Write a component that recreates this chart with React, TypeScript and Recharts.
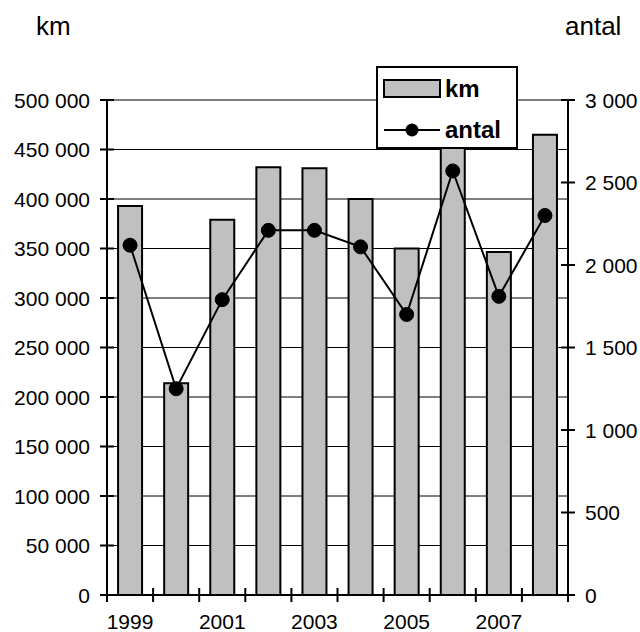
import React from 'react';
import { ComposedChart, Bar, Line, XAxis, YAxis, CartesianGrid, Legend } from 'recharts';

const years = ['1999', '2000', '2001', '2002', '2003', '2004', '2005', '2006', '2007', '2008'];
const kmValues = [393000, 214000, 379000, 432000, 431000, 400000, 350000, 462000, 346500, 465000];
const antalValues = [2120, 1250, 1790, 2210, 2210, 2110, 1700, 2570, 1810, 2300];
const kmTicks = [0, 50000, 100000, 150000, 200000, 250000, 300000, 350000, 400000, 450000, 500000];
const antalTicks = [0, 500, 1000, 1500, 2000, 2500, 3000];

const data = years.map((y, i) => ({ year: y, km: kmValues[i], antal: antalValues[i] }));

const FONT = '"Liberation Sans", Arial, sans-serif';
const FS = 21;
const TITLE_FS = 26;
const LEGEND_FS = 24;
const TICK = 7;
const MARGIN = 10;
const XMARGIN = 12;

const fmt = (n: number) => String(n).replace(/\B(?=(\d{3})+(?!\d))/g, ' ');

const LeftTick = (props: any) => {
  const { x, y, payload } = props;
  const ax = x + TICK + MARGIN;
  return (
    <g>
      <line x1={ax - TICK} x2={ax + TICK} y1={y} y2={y} stroke="#000" strokeWidth={2} />
      <text x={x} y={y} dy="0.36em" textAnchor="end" fontFamily={FONT} fontSize={FS} fill="#000">
        {fmt(payload.value)}
      </text>
    </g>
  );
};

const RightTick = (props: any) => {
  const { x, y, payload } = props;
  const ax = x - TICK - MARGIN;
  return (
    <g>
      <line x1={ax - TICK} x2={ax + TICK} y1={y} y2={y} stroke="#000" strokeWidth={2} />
      <text x={x} y={y} dy="0.36em" textAnchor="start" fontFamily={FONT} fontSize={FS} fill="#000">
        {fmt(payload.value)}
      </text>
    </g>
  );
};

const BottomTick = (props: any) => {
  const { x, y, payload, index, width, visibleTicksCount } = props;
  const half = payload && typeof payload.offset === 'number' && payload.offset > 0
    ? payload.offset
    : width / (visibleTicksCount || years.length) / 2;
  const ay = y - TICK - XMARGIN;
  const left = x - half;
  const right = x + half;
  return (
    <g>
      <line x1={left} x2={left} y1={ay - TICK} y2={ay + TICK} stroke="#000" strokeWidth={2} />
      {index === years.length - 1 && (
        <line x1={right} x2={right} y1={ay - TICK} y2={ay + TICK} stroke="#000" strokeWidth={2} />
      )}
      {index % 2 === 0 && (
        <text x={x} y={y} dy="0.71em" textAnchor="middle" fontFamily={FONT} fontSize={FS} fill="#000">
          {payload.value}
        </text>
      )}
    </g>
  );
};

const LegendBox = () => (
  <div
    style={{
      boxSizing: 'border-box',
      width: 142,
      height: 83,
      border: '2px solid #000',
      background: '#fff',
      position: 'relative',
    }}
  >
    <svg width={138} height={79} style={{ position: 'absolute', left: 0, top: 0, overflow: 'visible' }}>
      <rect x={6} y={12} width={56} height={17} fill="#c0c0c0" stroke="#000" strokeWidth={2} />
      <text x={67} y={29} fontFamily={FONT} fontSize={LEGEND_FS} fontWeight="bold" fill="#000">km</text>
      <line x1={6} x2={62} y1={62} y2={62} stroke="#000" strokeWidth={2} />
      <circle cx={34} cy={62} r={6.5} fill="#000" />
      <text x={67} y={70} fontFamily={FONT} fontSize={LEGEND_FS} fontWeight="bold" fill="#000">antal</text>
    </svg>
  </div>
);

export default function App() {
  return (
    <div style={{ position: 'absolute', left: 0, top: 0, width: 640, height: 632, background: '#fff' }}>
      <ComposedChart
        width={640}
        height={632}
        data={data}
        margin={{ top: 100, right: 0, bottom: 0, left: 0 }}
        barCategoryGap="24%"
      >
        <CartesianGrid yAxisId="left" vertical={false} horizontal stroke="#000" strokeWidth={1} />
        <XAxis
          dataKey="year"
          height={37}
          interval={0}
          tickSize={TICK}
          tickMargin={XMARGIN}
          tickLine={false}
          axisLine={{ stroke: '#000', strokeWidth: 2 }}
          tick={<BottomTick />}
        />
        <YAxis
          yAxisId="left"
          orientation="left"
          width={107}
          domain={[0, 500000]}
          ticks={kmTicks}
          interval={0}
          tickSize={TICK}
          tickMargin={MARGIN}
          tickLine={false}
          axisLine={{ stroke: '#000', strokeWidth: 2 }}
          tick={<LeftTick />}
          label={{
            content: () => (
              <text x={36} y={35} fontFamily={FONT} fontSize={TITLE_FS} fill="#000">km</text>
            ),
          }}
        />
        <YAxis
          yAxisId="right"
          orientation="right"
          width={72}
          domain={[0, 3000]}
          ticks={antalTicks}
          interval={0}
          tickSize={TICK}
          tickMargin={MARGIN}
          tickLine={false}
          axisLine={{ stroke: '#000', strokeWidth: 2 }}
          tick={<RightTick />}
          label={{
            content: () => (
              <text x={565} y={35} fontFamily={FONT} fontSize={TITLE_FS} fill="#000">antal</text>
            ),
          }}
        />
        <Bar
          yAxisId="left"
          dataKey="km"
          fill="#c0c0c0"
          stroke="#000"
          strokeWidth={2}
          isAnimationActive={false}
        />
        <Line
          yAxisId="right"
          type="linear"
          dataKey="antal"
          stroke="#000"
          strokeWidth={2}
          dot={{ r: 7, fill: '#000', stroke: '#000', strokeWidth: 1 }}
          activeDot={false}
          isAnimationActive={false}
        />
        <Legend
          layout="vertical"
          align="center"
          verticalAlign="middle"
          wrapperStyle={{ left: 376, top: 66, width: 142, height: 83 }}
          content={() => <LegendBox />}
        />
      </ComposedChart>
    </div>
  );
}
